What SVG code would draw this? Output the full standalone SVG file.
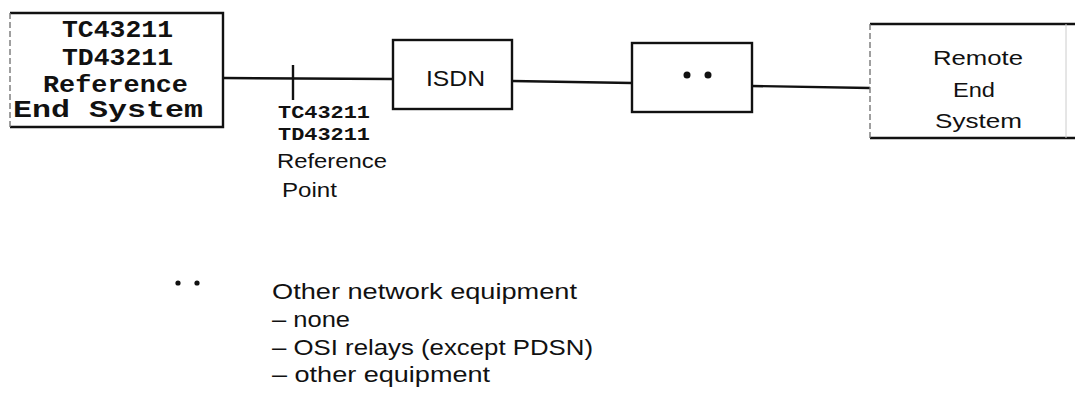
<svg xmlns="http://www.w3.org/2000/svg" width="1075" height="393" viewBox="0 0 1075 393">
<style>
.box{fill:none;stroke:#111;stroke-width:2.4}
.faint{fill:none;stroke:#777;stroke-width:1.4;stroke-dasharray:6 3}
.wire{fill:none;stroke:#111;stroke-width:2.4}
.mono{font-family:"Liberation Mono","DejaVu Sans Mono",monospace;font-weight:bold;fill:#111}
.sans{font-family:"Liberation Sans",Arial,sans-serif;fill:#111}
</style>
<rect width="1075" height="393" fill="#fff"/>
<g id="connectors">
<line class="wire" x1="223" y1="78" x2="393" y2="79"/>
<line class="wire" x1="293" y1="65" x2="293" y2="100"/>
<line class="wire" x1="512" y1="81" x2="632" y2="83"/>
<line class="wire" x1="752" y1="86" x2="870" y2="88"/>
</g>
<g id="ref-end-system">
<path class="box" d="M10,13 H223 V127 H10"/>
<line class="faint" x1="10" y1="13" x2="10" y2="127"/>
<text class="mono" font-size="23" x="62" y="37" textLength="111" lengthAdjust="spacingAndGlyphs">TC43211</text>
<text class="mono" font-size="23" x="62" y="65" textLength="111" lengthAdjust="spacingAndGlyphs">TD43211</text>
<text class="mono" font-size="23" x="43" y="92" textLength="145" lengthAdjust="spacingAndGlyphs">Reference</text>
<text class="mono" font-size="23" x="13" y="117" textLength="190" lengthAdjust="spacingAndGlyphs">End System</text>
</g>
<g id="ref-point">
<text class="mono" font-size="18" x="278" y="118" textLength="92" lengthAdjust="spacingAndGlyphs">TC43211</text>
<text class="mono" font-size="18" x="278" y="140" textLength="92" lengthAdjust="spacingAndGlyphs">TD43211</text>
<text class="sans" font-size="20" x="277" y="168" textLength="110" lengthAdjust="spacingAndGlyphs">Reference</text>
<text class="sans" font-size="20" x="282" y="197" textLength="55" lengthAdjust="spacingAndGlyphs">Point</text>
</g>
<g id="isdn">
<rect class="box" x="393" y="40" width="119" height="69"/>
<text class="sans" font-size="22" x="426" y="86" textLength="59" lengthAdjust="spacingAndGlyphs">ISDN</text>
</g>
<g id="other-equipment">
<rect class="box" x="632" y="43" width="120" height="69"/>
<circle cx="687" cy="75" r="3.5" fill="#111"/>
<circle cx="708" cy="75" r="3.5" fill="#111"/>
</g>
<g id="remote-end-system">
<path class="box" d="M870,24 H1075 M870,138 H1075"/>
<line class="faint" x1="870" y1="24" x2="870" y2="138"/>
<line x1="1066" y1="24" x2="1066" y2="138" stroke="#ccc" stroke-width="1"/>
<text class="sans" font-size="21" x="933" y="65" textLength="90" lengthAdjust="spacingAndGlyphs">Remote</text>
<text class="sans" font-size="21" x="953" y="97" textLength="42" lengthAdjust="spacingAndGlyphs">End</text>
<text class="sans" font-size="21" x="935" y="128" textLength="87" lengthAdjust="spacingAndGlyphs">System</text>
</g>
<g id="legend">
<circle cx="178" cy="283" r="2.6" fill="#111"/>
<circle cx="197" cy="283" r="2.6" fill="#111"/>
<text class="sans" font-size="22" x="272" y="299" textLength="305" lengthAdjust="spacingAndGlyphs">Other network equipment</text>
<text class="sans" font-size="22" x="272" y="327" textLength="78" lengthAdjust="spacingAndGlyphs">– none</text>
<text class="sans" font-size="22" x="272" y="355" textLength="321" lengthAdjust="spacingAndGlyphs">– OSI relays (except PDSN)</text>
<text class="sans" font-size="22" x="272" y="382" textLength="218" lengthAdjust="spacingAndGlyphs">– other equipment</text>
</g>
</svg>
